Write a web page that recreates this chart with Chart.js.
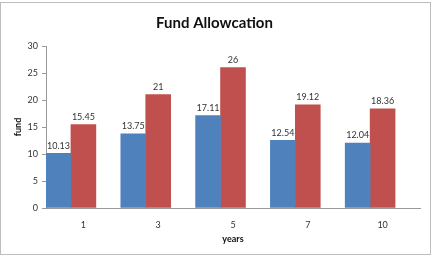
<!DOCTYPE html>
<html lang="en">
<head>
  <meta charset="UTF-8">
  <title>Fund Allowcation</title>
  <script src="https://cdn.jsdelivr.net/npm/chart.js"></script>
  <style>
    body {
      margin: 0;
      background: #fff;
    }
    .chart-box {
      width: 435px;
      height: 256px;
    }
  </style>
</head>
<body>
  <div class="chart-box">
    <canvas id="barChart" width="435" height="256"></canvas>
  </div>

  <script>
    const years = ['1', '3', '5', '7', '10'];
    const seriesBlue = [10.13, 13.75, 17.11, 12.54, 12.04];
    const seriesRed = [15.45, 21, 26, 19.12, 18.36];
    // third (empty) series in the source sheet, keeps bars left in each slot
    const seriesEmpty = [null, null, null, null, null];

    const FONT = 'Lato, "DejaVu Sans", sans-serif';

    // value labels above each bar
    const barLabels = {
      id: 'barLabels',
      afterDatasetsDraw(chart) {
        const c = chart.ctx;
        c.save();
        c.font = '9px ' + FONT;
        c.fillStyle = '#333';
        c.textAlign = 'center';
        c.textBaseline = 'bottom';
        chart.data.datasets.forEach((ds, i) => {
          const meta = chart.getDatasetMeta(i);
          meta.data.forEach((bar, j) => {
            const v = ds.data[j];
            if (v == null) return;
            c.fillText(String(v), bar.x, bar.y - 3);
          });
        });
        c.restore();
      }
    };

    // outer frame like the spreadsheet chart
    const frame = {
      id: 'frame',
      afterDraw(chart) {
        const c = chart.ctx;
        c.save();
        c.strokeStyle = '#bdbdbd';
        c.lineWidth = 1;
        c.strokeRect(0.5, 2.5, 430, 252);
        c.restore();
      }
    };

    new Chart(document.getElementById('barChart'), {
      type: 'bar',
      data: {
        labels: years,
        datasets: [
          { label: 'Series1', data: seriesBlue, backgroundColor: '#4f81bd' },
          { label: 'Series2', data: seriesRed, backgroundColor: '#c0504d' },
          { label: 'Series3', data: seriesEmpty, backgroundColor: '#9bbb59' }
        ]
      },
      options: {
        responsive: false,
        animation: false,
        datasets: {
          bar: { categoryPercentage: 1, barPercentage: 1 }
        },
        layout: {
          padding: { left: 9, right: 15, top: 0, bottom: 8 }
        },
        plugins: {
          legend: { display: false },
          tooltip: { enabled: false },
          title: {
            display: true,
            text: 'Fund Allowcation',
            color: '#111',
            font: { family: FONT, size: 15, weight: 'bold' },
            padding: { top: 14, bottom: 14 }
          }
        },
        scales: {
          x: {
            grid: { display: false },
            border: { display: true, color: '#999' },
            ticks: { color: '#333', font: { family: FONT, size: 9 }, padding: 4 },
            title: {
              display: true,
              text: 'years',
              color: '#111',
              font: { family: FONT, size: 9, weight: 'bold' },
              padding: { top: 2 }
            },
            afterFit: s => { s.height = 40; }
          },
          y: {
            min: 0,
            max: 30,
            grid: { drawOnChartArea: false, drawTicks: true, tickLength: 4, color: '#999' },
            border: { display: true, color: '#999' },
            ticks: { stepSize: 5, color: '#333', font: { family: FONT, size: 9 }, padding: 4 },
            title: {
              display: true,
              text: 'fund',
              color: '#111',
              font: { family: FONT, size: 9, weight: 'bold' },
              padding: { bottom: 4 }
            },
            afterFit: s => { s.width = 37; }
          }
        }
      },
      plugins: [barLabels, frame]
    });
  </script>
</body>
</html>
